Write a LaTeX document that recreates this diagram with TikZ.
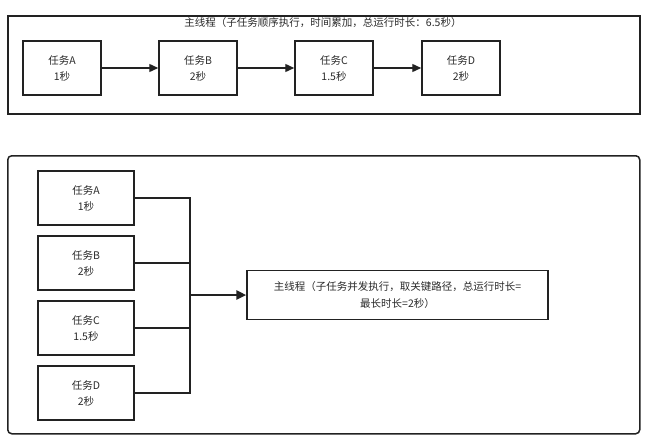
\documentclass[tikz,border=0pt]{standalone}
\usepackage{fontspec}
\setmainfont{Noto Sans CJK SC}
\usetikzlibrary{arrows.meta}
\definecolor{ln}{HTML}{222222}
\definecolor{tx}{HTML}{2A2A2A}
\begin{document}
\begin{tikzpicture}[x=1pt,y=-1pt,
  taskbox/.style={draw=ln,line width=1.5pt,minimum width=78pt,minimum height=54pt,inner sep=0pt,align=center,text=tx,font=\fontsize{10.5}{16}\selectfont},
  framebox/.style={draw=ln,line width=1.5pt},
  conn/.style={draw=ln,line width=1.4pt},
  arr/.style={conn,-{Triangle[length=9pt,width=8pt]}},
  lbl/.style={text=tx,font=\fontsize{10.5}{16}\selectfont,inner sep=0pt,align=center}]
\useasboundingbox (0,0) rectangle (647,442);
% top frame
\node[framebox,minimum width=632pt,minimum height=98pt,inner sep=0pt,anchor=north west] (top) at (7,15) {};
\node[lbl] (ttl) at (323,23) {主线程（子任务顺序执行，时间累加，总运行时长：6.5秒）};
\node[taskbox] (a) at (62,68) {任务A\\1秒};
\node[taskbox] (b) at (198,68) {任务B\\2秒};
\node[taskbox] (c) at (334,68) {任务C\\1.5秒};
\node[taskbox] (d) at (461,68) {任务D\\2秒};
\draw[arr] (a) -- (b);
\draw[arr] (b) -- (c);
\draw[arr] (c) -- (d);
% bottom frame
\node[framebox,rounded corners=4pt,minimum width=632pt,minimum height=278pt,inner sep=0pt,anchor=north west] (bot) at (7,155) {};
\node[taskbox,minimum width=96pt] (pa) at (86,198) {任务A\\1秒};
\node[taskbox,minimum width=96pt] (pb) at (86,263) {任务B\\2秒};
\node[taskbox,minimum width=96pt] (pc) at (86,328) {任务C\\1.5秒};
\node[taskbox,minimum width=96pt] (pd) at (86,393) {任务D\\2秒};
\node[taskbox,minimum width=301pt,minimum height=49pt,font=\fontsize{10.5}{17}\selectfont] (m) at (397.5,295) {主线程（子任务并发执行，取关键路径，总运行时长=\\最长时长=2秒）};
\coordinate (j) at (190,295);
\draw[conn] (pa.east) -| (j);
\draw[conn] (pb.east) -| (j);
\draw[conn] (pc.east) -| (j);
\draw[conn] (pd.east) -| (j);
\draw[conn,line width=2.6pt,-{Triangle[length=10pt,width=9pt]}] (j) -- (m.west);
\end{tikzpicture}
\end{document}
